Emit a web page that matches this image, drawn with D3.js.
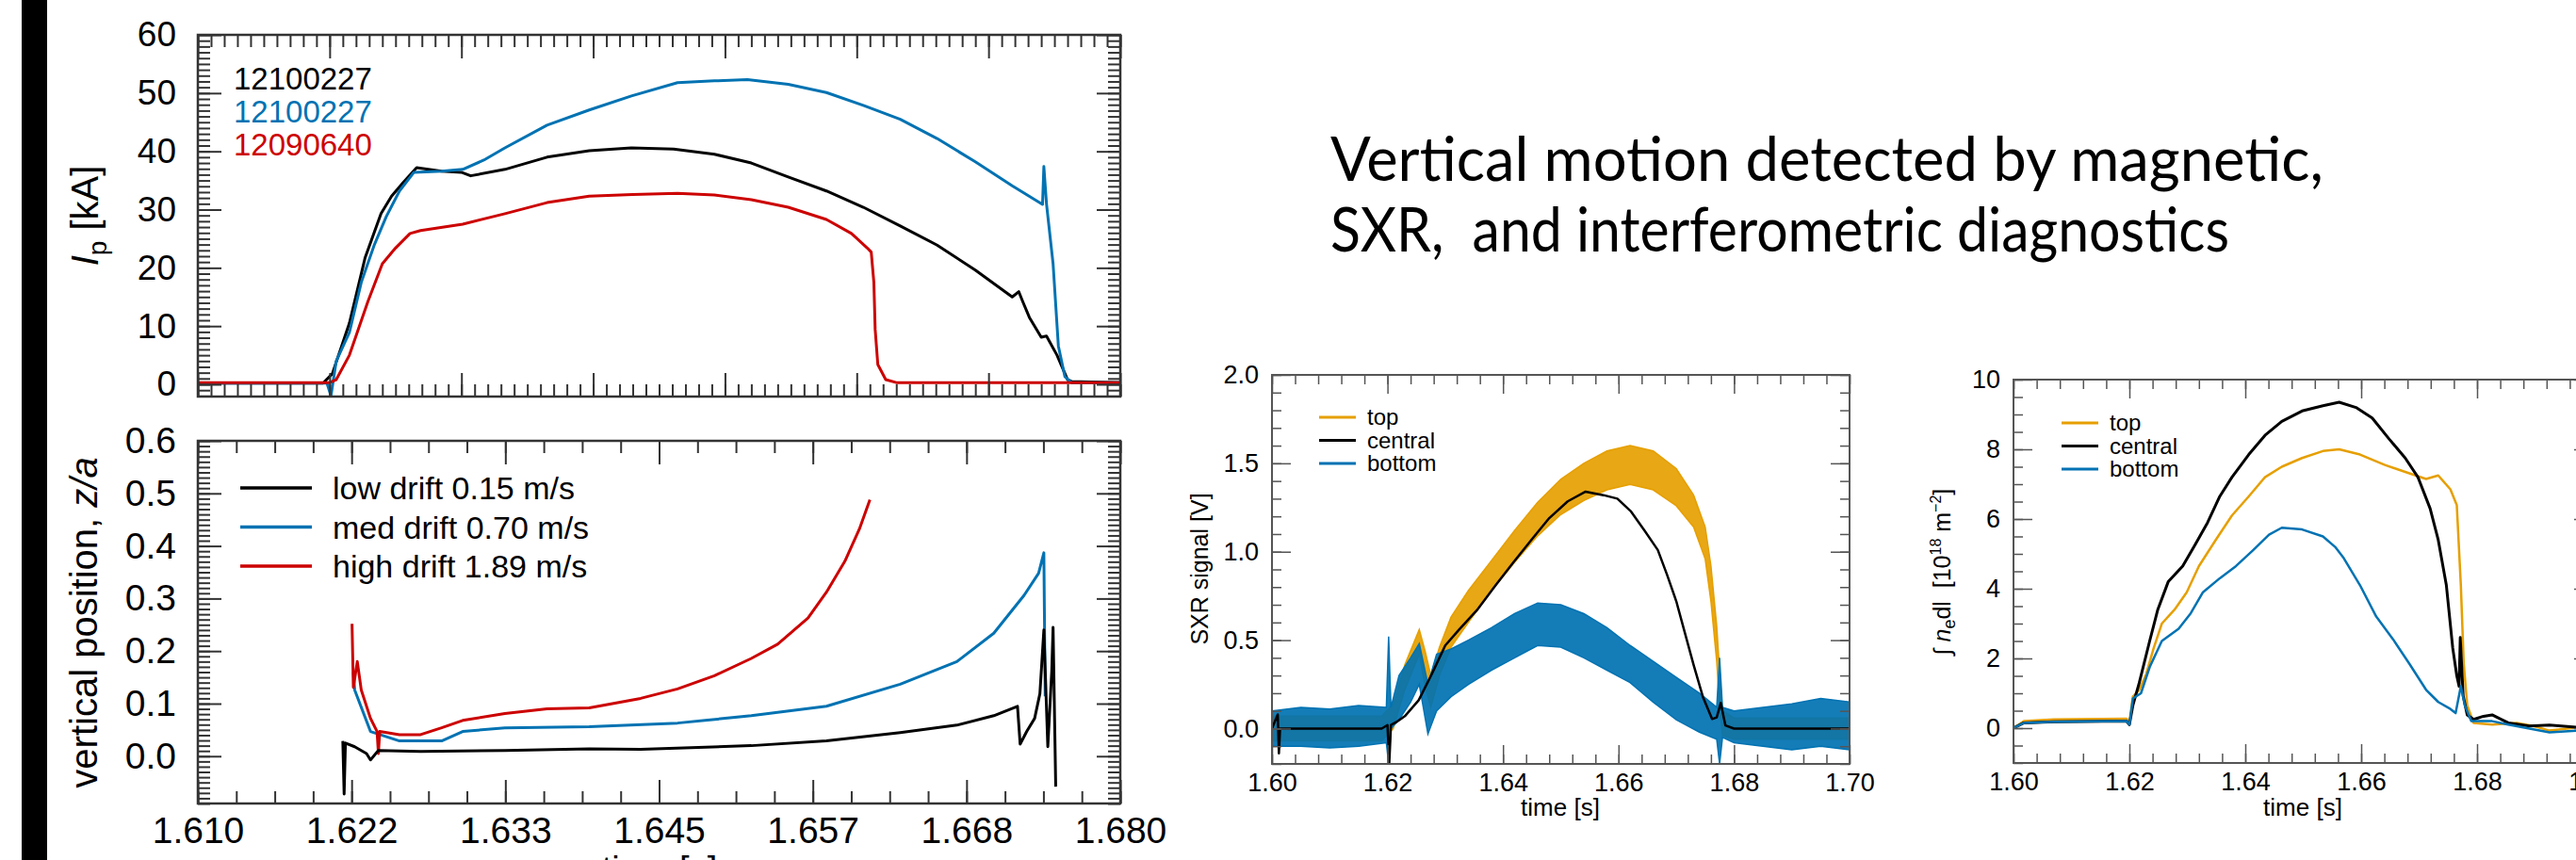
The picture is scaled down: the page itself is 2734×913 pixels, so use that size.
<!DOCTYPE html>
<html>
<head>
<meta charset="utf-8">
<script src="https://cdn.jsdelivr.net/npm/d3@7"></script>
<style>
  html, body { margin: 0; padding: 0; background: #fff; }
  svg { display: block; }
</style>
</head>
<body>
<div id="chart"></div>
<script>
// ---- plasma current, top-left panel (kA) ----
const ipTimeBlack = [1.610, 1.6195, 1.6202, 1.6215, 1.6227, 1.6239, 1.6247, 1.6256, 1.6266, 1.6285, 1.6300, 1.6307, 1.6333, 1.6365, 1.6397, 1.6429, 1.6461, 1.6492, 1.6520, 1.6548, 1.6577, 1.6605, 1.6633, 1.6661, 1.6690, 1.6718, 1.6723, 1.6726, 1.6731, 1.6740, 1.6744, 1.6752, 1.6760, 1.6763, 1.680]
const ipBlack     = [0.2, 0.2, 1.8, 10.5, 21.8, 29.3, 32.3, 34.7, 37.2, 36.6, 36.4, 35.8, 36.9, 39.0, 40.1, 40.6, 40.4, 39.5, 38.0, 35.6, 33.2, 30.4, 27.2, 23.9, 19.6, 15.0, 15.9, 14.2, 11.5, 8.1, 8.3, 5.0, 0.8, 0.5, 0.3]
const ipTimeBlue  = [1.610, 1.6198, 1.6201, 1.6205, 1.6215, 1.6224, 1.6234, 1.6243, 1.6253, 1.6264, 1.6285, 1.6301, 1.6317, 1.6333, 1.6365, 1.6397, 1.6429, 1.6464, 1.6492, 1.6517, 1.6548, 1.6577, 1.6605, 1.6633, 1.6661, 1.6690, 1.6718, 1.6741, 1.6742, 1.6744, 1.6749, 1.6753, 1.6758, 1.6763, 1.680]
const ipBlue      = [0.2, 0.2, -2.0, 4.0, 8.9, 17.5, 24.0, 28.8, 33.2, 36.4, 36.6, 36.9, 38.5, 40.6, 44.5, 47.1, 49.5, 51.8, 52.1, 52.3, 51.5, 50.1, 47.9, 45.5, 42.2, 38.2, 34.1, 30.9, 37.4, 31.0, 20.7, 6.6, 1.3, 0.3, 0.3]
const ipTimeRed   = [1.610, 1.6200, 1.6205, 1.6215, 1.6229, 1.6240, 1.6250, 1.6261, 1.6269, 1.6301, 1.6333, 1.6365, 1.6397, 1.6430, 1.6464, 1.6492, 1.6520, 1.6548, 1.6577, 1.6596, 1.6608, 1.6611, 1.6613, 1.6614, 1.6616, 1.6622, 1.6630, 1.680]
const ipRed       = [0.3, 0.3, 0.8, 5.0, 14.2, 20.7, 23.4, 25.9, 26.4, 27.5, 29.3, 31.2, 32.3, 32.6, 32.8, 32.5, 31.7, 30.4, 28.3, 25.9, 23.4, 22.7, 17.5, 9.4, 3.4, 0.8, 0.3, 0.3]
const ipShots     = ['12100227', '12100227', '12090640']
const ipYTicks    = [0, 10, 20, 30, 40, 50, 60]

// ---- vertical position, bottom-left panel (z/a) ----
const zTimeBlack = [1.6210, 1.6211, 1.6212, 1.6219, 1.6228, 1.6231, 1.6237, 1.6269, 1.6333, 1.6397, 1.6436, 1.6520, 1.6577, 1.6633, 1.6676, 1.6704, 1.6722, 1.6724, 1.6729, 1.6735, 1.6739, 1.6742, 1.6745, 1.6748, 1.6749, 1.6751]
const zBlack     = [0.029, -0.072, 0.025, 0.018, 0.005, -0.007, 0.011, 0.009, 0.011, 0.014, 0.013, 0.020, 0.029, 0.045, 0.059, 0.077, 0.095, 0.023, 0.047, 0.072, 0.119, 0.240, 0.018, 0.162, 0.245, -0.058]
const zTimeBlue  = [1.6218, 1.6219, 1.6231, 1.6253, 1.6285, 1.6301, 1.6333, 1.6397, 1.6464, 1.6520, 1.6577, 1.6633, 1.6676, 1.6704, 1.6727, 1.6738, 1.6742, 1.6743]
const zBlue      = [0.160, 0.126, 0.047, 0.029, 0.029, 0.047, 0.054, 0.056, 0.063, 0.077, 0.095, 0.137, 0.180, 0.234, 0.306, 0.348, 0.387, 0.114]
const zTimeRed   = [1.6217, 1.6218, 1.6221, 1.6224, 1.6231, 1.6236, 1.6237, 1.6238, 1.6253, 1.6269, 1.6285, 1.6301, 1.6333, 1.6365, 1.6397, 1.6436, 1.6464, 1.6492, 1.6520, 1.6540, 1.6563, 1.6577, 1.6591, 1.6602, 1.6610]
const zRed       = [0.252, 0.131, 0.180, 0.126, 0.072, 0.047, 0.005, 0.047, 0.041, 0.041, 0.054, 0.068, 0.081, 0.090, 0.092, 0.110, 0.128, 0.153, 0.186, 0.213, 0.263, 0.312, 0.371, 0.432, 0.488]
const zLegend    = ['low drift 0.15 m/s', 'med drift 0.70 m/s', 'high drift 1.89 m/s']
const zXLabels   = ['1.610', '1.622', '1.633', '1.645', '1.657', '1.668', '1.680']
const zYTicks    = [0.0, 0.1, 0.2, 0.3, 0.4, 0.5, 0.6]

// ---- SXR signal, middle panel (V); noisy channels kept as envelopes ----
const sxrTimeTop = [1.600, 1.619, 1.621, 1.623, 1.6255, 1.6265, 1.6275, 1.629, 1.631, 1.634, 1.638, 1.642, 1.646, 1.650, 1.654, 1.658, 1.662, 1.666, 1.670, 1.673, 1.675, 1.676, 1.677, 1.6775, 1.678, 1.680, 1.700]
const sxrTopHi   = [0.07, 0.07, 0.14, 0.36, 0.56, 0.44, 0.30, 0.46, 0.63, 0.78, 0.95, 1.12, 1.28, 1.41, 1.50, 1.57, 1.60, 1.57, 1.47, 1.32, 1.14, 0.92, 0.58, 0.32, 0.10, 0.06, 0.06]
const sxrTopLo   = [-0.07, -0.07, 0.00, 0.22, 0.42, 0.24, 0.12, 0.30, 0.46, 0.60, 0.78, 0.94, 1.09, 1.21, 1.29, 1.35, 1.38, 1.35, 1.26, 1.14, 0.96, 0.72, 0.38, 0.12, -0.04, -0.06, -0.06]
const sxrTimeBottom = [1.600, 1.605, 1.610, 1.615, 1.6198, 1.6202, 1.6206, 1.622, 1.624, 1.6255, 1.627, 1.6285, 1.631, 1.634, 1.638, 1.642, 1.646, 1.650, 1.654, 1.658, 1.662, 1.666, 1.670, 1.674, 1.677, 1.6775, 1.678, 1.680, 1.685, 1.690, 1.695, 1.700]
const sxrBottomHi = [0.10, 0.12, 0.11, 0.13, 0.12, 0.52, 0.12, 0.30, 0.40, 0.48, 0.25, 0.42, 0.45, 0.50, 0.57, 0.65, 0.71, 0.70, 0.65, 0.57, 0.47, 0.38, 0.29, 0.20, 0.12, 0.40, 0.12, 0.10, 0.12, 0.14, 0.17, 0.15]
const sxrBottomLo = [-0.10, -0.10, -0.11, -0.10, -0.08, -0.20, 0.00, 0.05, 0.15, 0.25, -0.03, 0.10, 0.18, 0.25, 0.33, 0.40, 0.47, 0.46, 0.40, 0.33, 0.26, 0.15, 0.05, -0.02, -0.06, -0.20, -0.05, -0.08, -0.10, -0.12, -0.10, -0.12]
const sxrTimeCentral = [1.600, 1.6010, 1.6012, 1.6014, 1.619, 1.6200, 1.6203, 1.6206, 1.6215, 1.623, 1.6254, 1.6277, 1.630, 1.6324, 1.6355, 1.6387, 1.6418, 1.645, 1.648, 1.6512, 1.6543, 1.6574, 1.6598, 1.6621, 1.6645, 1.6668, 1.6684, 1.670, 1.6715, 1.673, 1.6746, 1.6762, 1.677, 1.6777, 1.6785, 1.680, 1.700]
const sxrCentral = [0.0, 0.08, -0.14, 0.0, 0.0, 0.02, -0.2, 0.02, 0.036, 0.07, 0.16, 0.31, 0.47, 0.56, 0.67, 0.81, 0.94, 1.07, 1.19, 1.285, 1.34, 1.32, 1.30, 1.23, 1.12, 1.01, 0.87, 0.72, 0.54, 0.36, 0.18, 0.054, 0.063, 0.145, 0.018, 0.0, 0.0]
const sxrYTicks  = [0.0, 0.5, 1.0, 1.5, 2.0]

// ---- line-integrated density, right panel (1e18 m^-2) ----
const neTimeTop = [1.600, 1.6018, 1.607, 1.6195, 1.6200, 1.6206, 1.6217, 1.6229, 1.6242, 1.6256, 1.6278, 1.6299, 1.6320, 1.6349, 1.6377, 1.6406, 1.6434, 1.6463, 1.6498, 1.6534, 1.6562, 1.6598, 1.6641, 1.6676, 1.6712, 1.6733, 1.6754, 1.6765, 1.6772, 1.6777, 1.6783, 1.6794, 1.6826, 1.6868, 1.6897, 1.6925, 1.6974, 1.700]
const neTop     = [0.0, 0.2, 0.25, 0.27, 0.15, 0.9, 1.1, 1.55, 2.3, 3.0, 3.4, 3.9, 4.65, 5.4, 6.1, 6.65, 7.2, 7.5, 7.75, 7.95, 8.0, 7.85, 7.55, 7.35, 7.15, 7.25, 6.85, 6.4, 4.1, 1.85, 0.65, 0.15, 0.1, 0.15, 0.06, -0.07, 0.02, 0.0]
const neTimeCentral = [1.600, 1.6018, 1.607, 1.6195, 1.6200, 1.6206, 1.6217, 1.6235, 1.6249, 1.6267, 1.6292, 1.6313, 1.6335, 1.6356, 1.6377, 1.6406, 1.6434, 1.6463, 1.6498, 1.6534, 1.6562, 1.6591, 1.6619, 1.6648, 1.6676, 1.6698, 1.6719, 1.6733, 1.6747, 1.6758, 1.6765, 1.6769, 1.6771, 1.6776, 1.6783, 1.6794, 1.6811, 1.6826, 1.6854, 1.6890, 1.6925, 1.6974, 1.700]
const neCentral = [0.0, 0.15, 0.18, 0.2, 0.1, 0.65, 1.3, 2.5, 3.4, 4.2, 4.65, 5.25, 5.9, 6.65, 7.2, 7.85, 8.4, 8.8, 9.1, 9.25, 9.35, 9.2, 8.9, 8.3, 7.75, 7.2, 6.3, 5.4, 4.1, 2.3, 1.5, 1.2, 2.6, 0.93, 0.38, 0.25, 0.34, 0.38, 0.15, 0.06, 0.09, 0.02, 0.0]
const neTimeBottom = [1.600, 1.6018, 1.607, 1.6195, 1.6200, 1.6206, 1.6220, 1.6235, 1.6256, 1.6285, 1.6306, 1.6327, 1.6356, 1.6384, 1.6413, 1.6441, 1.6463, 1.6498, 1.6534, 1.6555, 1.6569, 1.6598, 1.6626, 1.6655, 1.6683, 1.6712, 1.6733, 1.6754, 1.6763, 1.6772, 1.6779, 1.6790, 1.6826, 1.6854, 1.6925, 1.6974, 1.700]
const neBottom  = [0.0, 0.15, 0.18, 0.2, 0.1, 0.85, 1.0, 1.75, 2.5, 2.85, 3.3, 3.9, 4.3, 4.65, 5.1, 5.55, 5.75, 5.7, 5.5, 5.2, 4.9, 4.1, 3.2, 2.55, 1.85, 1.1, 0.75, 0.55, 0.43, 1.2, 0.65, 0.2, 0.2, 0.1, -0.12, -0.07, -0.05]
const neYTicks  = [0, 2, 4, 6, 8, 10]

const diagLegend = ['top', 'central', 'bottom']
const titleLines = ['Vertical motion detected by magnetic,', 'SXR,  and interferometric diagnostics']

const C = { black: '#000000', blue: '#0072b2', red: '#cc0000', orange: '#e69f00' }
const FONT = "'Liberation Sans', Arial, Helvetica, sans-serif"

const W = 2734, H = 913
const svg = d3.select('#chart').append('svg').attr('width', W).attr('height', H)
svg.append('rect').attr('width', W).attr('height', H).attr('fill', '#fff')

// black slide bar on the left
svg.append('rect').attr('x', 23).attr('y', 0).attr('width', 27).attr('height', H).attr('fill', '#000')

const zip = (a, b) => a.map((t, i) => [t, b[i]])
const step = (a, b, s) => d3.range(Math.round((b - a) / s) + 1).map(i => a + i * s)

function makePanel(o) {
  const x = d3.scaleLinear().domain(o.xDomain).range([o.left, o.right])
  const y = d3.scaleLinear().domain(o.yDomain).range([o.bottom, o.top])
  svg.append('clipPath').attr('id', 'clip-' + o.name)
    .append('rect')
    .attr('x', o.left).attr('y', o.top)
    .attr('width', o.right - o.left).attr('height', o.bottom - o.top)
  const plot = svg.append('g').attr('clip-path', `url(#clip-${o.name})`)
  return { x, y, plot, o }
}

function line(p, t, v, color, width) {
  p.plot.append('path')
    .datum(zip(t, v))
    .attr('fill', 'none')
    .attr('stroke', color)
    .attr('stroke-width', width)
    .attr('stroke-linejoin', 'round')
    .attr('d', d3.line().x(d => p.x(d[0])).y(d => p.y(d[1])))
}

// noisy channels: filled envelope between the low and high readings
function band(p, t, lo, hi, color) {
  p.plot.append('path')
    .datum(t.map((d, i) => [d, lo[i], hi[i]]))
    .attr('fill', color)
    .attr('fill-opacity', 0.92)
    .attr('stroke', color)
    .attr('stroke-width', 1.5)
    .attr('d', d3.area().x(d => p.x(d[0])).y0(d => p.y(d[1])).y1(d => p.y(d[2])))
}

function axes(p) {
  const { x, y, o } = p
  const style = sel => {
    sel.select('.domain').remove()
    sel.selectAll('.tick line').attr('stroke', o.tickColor).attr('stroke-width', o.tickWidth)
    sel.selectAll('.tick text').attr('fill', '#000').attr('font-size', o.fontSize).attr('font-family', FONT)
  }
  const put = (axis, tx, ty) => svg.append('g')
    .attr('transform', `translate(${tx},${ty})`)
    .call(axis).call(style)

  put(d3.axisBottom(x).tickValues(o.xMinor).tickSize(-o.minorLen).tickFormat(''), 0, o.bottom)
  put(d3.axisBottom(x).tickValues(o.xMajor).tickSize(-o.majorLen).tickPadding(o.padX).tickFormat(o.xFormat || ''), 0, o.bottom)
  put(d3.axisTop(x).tickValues(o.xMinor).tickSize(-o.minorLen).tickFormat(''), 0, o.top)
  put(d3.axisTop(x).tickValues(o.xMajor).tickSize(-o.majorLen).tickFormat(''), 0, o.top)
  put(d3.axisLeft(y).tickValues(o.yMinor).tickSize(-o.minorLen).tickFormat(''), o.left, 0)
  put(d3.axisLeft(y).tickValues(o.yMajor).tickSize(-o.majorLen).tickPadding(o.padY).tickFormat(o.yFormat), o.left, 0)
  put(d3.axisRight(y).tickValues(o.yMinor).tickSize(-o.minorLen).tickFormat(''), o.right, 0)
  put(d3.axisRight(y).tickValues(o.yMajor).tickSize(-o.majorLen).tickFormat(''), o.right, 0)

  svg.append('rect')
    .attr('x', o.left).attr('y', o.top)
    .attr('width', o.right - o.left).attr('height', o.bottom - o.top)
    .attr('fill', 'none').attr('stroke', o.tickColor).attr('stroke-width', o.frameWidth)
}

function text(x, y, str, size, opts = {}) {
  return svg.append('text')
    .attr('x', x).attr('y', y)
    .attr('font-family', opts.family || FONT)
    .attr('font-size', size)
    .attr('text-anchor', opts.anchor || 'start')
    .attr('fill', opts.fill || '#000')
    .style('white-space', 'pre')
    .text(str)
}

function rotated(cx, cy, size) {
  return svg.append('text')
    .attr('transform', `translate(${cx},${cy}) rotate(-90)`)
    .attr('font-family', FONT)
    .attr('font-size', size)
    .attr('text-anchor', 'middle')
    .style('white-space', 'pre')
}

// ================= top-left: Ip =================
const ip = makePanel({
  name: 'ip', left: 210, right: 1189, top: 37, bottom: 421,
  xDomain: [1.61, 1.68], yDomain: [-2.1, 60],
  xMajor: step(1.61, 1.68, 0.01), xMinor: step(1.61, 1.68, 0.001),
  yMajor: ipYTicks, yMinor: step(-2, 60, 1),
  majorLen: 25, minorLen: 13, padX: 10, padY: 23,
  yFormat: d3.format('d'), fontSize: 37,
  tickColor: '#333', tickWidth: 2, frameWidth: 2.5
})
line(ip, ipTimeBlack, ipBlack, C.black, 3)
line(ip, ipTimeBlue, ipBlue, C.blue, 3)
line(ip, ipTimeRed, ipRed, C.red, 3)
axes(ip)
;[C.black, C.blue, C.red].forEach((c, i) => text(248, 95 + i * 35, ipShots[i], 33, { fill: c }))

const ipTitle = rotated(104, 229, 40)
ipTitle.append('tspan').attr('font-style', 'italic').text('I')
ipTitle.append('tspan').attr('font-size', 28).attr('dy', 9).text('p')
ipTitle.append('tspan').attr('dy', -9).text(' [kA]')

// ================= bottom-left: z/a =================
const zp = makePanel({
  name: 'z', left: 210, right: 1189, top: 468, bottom: 853,
  xDomain: [1.61, 1.68], yDomain: [-0.09, 0.6],
  xMajor: step(1.61, 1.68, 0.07 / 6), xMinor: step(1.61, 1.68, 0.07 / 24),
  yMajor: zYTicks, yMinor: step(-0.09, 0.6, 0.01),
  majorLen: 25, minorLen: 13, padX: 14, padY: 23,
  xFormat: (d, i) => zXLabels[i], yFormat: d3.format('.1f'), fontSize: 39,
  tickColor: '#333', tickWidth: 2, frameWidth: 2.5
})
line(zp, zTimeBlue, zBlue, C.blue, 3)
line(zp, zTimeRed, zRed, C.red, 3)
line(zp, zTimeBlack, zBlack, C.black, 3)
axes(zp)
;[C.black, C.blue, C.red].forEach((c, i) => {
  const yy = 518 + i * 41.5
  svg.append('line').attr('x1', 255).attr('x2', 331).attr('y1', yy).attr('y2', yy)
    .attr('stroke', c).attr('stroke-width', 3.5)
  text(353, yy + 12, zLegend[i], 34)
})
const zTitle = rotated(103, 661, 40)
zTitle.append('tspan').text('vertical position, ')
zTitle.append('tspan').attr('font-style', 'italic').text('z/a')
text(700, 936, 'time [s]', 38, { anchor: 'middle' })

// ================= middle: SXR =================
const sxr = makePanel({
  name: 'sxr', left: 1350, right: 1963, top: 398, bottom: 811,
  xDomain: [1.6, 1.7], yDomain: [-0.2, 2.0],
  xMajor: step(1.6, 1.7, 0.02), xMinor: step(1.6, 1.7, 0.004),
  yMajor: sxrYTicks, yMinor: step(-0.2, 2.0, 0.1),
  majorLen: 20, minorLen: 10, padX: 10, padY: 14,
  xFormat: d3.format('.2f'), yFormat: d3.format('.1f'), fontSize: 27,
  tickColor: '#555', tickWidth: 1.5, frameWidth: 2
})
band(sxr, sxrTimeTop, sxrTopLo, sxrTopHi, C.orange)
band(sxr, sxrTimeBottom, sxrBottomLo, sxrBottomHi, C.blue)
line(sxr, sxrTimeCentral, sxrCentral, C.black, 2.5)
axes(sxr)
rotated(1282, 604, 25).text('SXR signal [V]')
text(1656, 866, 'time [s]', 26, { anchor: 'middle' })

// ================= right: interferometer =================
const ne = makePanel({
  name: 'ne', left: 2137, right: 2752, top: 403, bottom: 810,
  xDomain: [1.6, 1.7], yDomain: [-1, 10],
  xMajor: step(1.6, 1.7, 0.02), xMinor: step(1.6, 1.7, 0.004),
  yMajor: neYTicks, yMinor: step(-1, 10, 0.5),
  majorLen: 20, minorLen: 10, padX: 10, padY: 14,
  xFormat: d3.format('.2f'), yFormat: d3.format('d'), fontSize: 27,
  tickColor: '#555', tickWidth: 1.5, frameWidth: 2
})
line(ne, neTimeTop, neTop, C.orange, 2.5)
line(ne, neTimeCentral, neCentral, C.black, 3)
line(ne, neTimeBottom, neBottom, C.blue, 2.5)
axes(ne)
const neTitle = rotated(2070, 607, 25)
neTitle.append('tspan').text('\u222B ')
neTitle.append('tspan').attr('font-style', 'italic').text('n')
neTitle.append('tspan').attr('font-size', 18).attr('dy', 5).text('e')
neTitle.append('tspan').attr('dy', -5).text('dl  [10')
neTitle.append('tspan').attr('font-size', 16).attr('dy', -10).text('18')
neTitle.append('tspan').attr('dy', 10).text(' m')
neTitle.append('tspan').attr('font-size', 16).attr('dy', -10).text('\u22122')
neTitle.append('tspan').attr('dy', 10).text(']')
text(2444, 866, 'time [s]', 26, { anchor: 'middle' })

// legends of the two diagnostic panels
;[[sxr, 1400, 443], [ne, 2188, 449]].forEach(([p, lx, ly]) => {
  ;[C.orange, C.black, C.blue].forEach((c, i) => {
    const yy = ly + i * 24.5
    svg.append('line').attr('x1', lx).attr('x2', lx + 39).attr('y1', yy).attr('y2', yy)
      .attr('stroke', c).attr('stroke-width', 3)
    text(lx + 51, yy + 8, diagLegend[i], 24)
  })
})

// slide title
titleLines.forEach((s, i) => {
  text(1412, 192 + i * 75, s, 66, { family: "Lato, 'Open Sans', sans-serif" })
    .attr('textLength', i === 0 ? 1054 : 954)
    .attr('lengthAdjust', 'spacingAndGlyphs')
})
</script>
</body>
</html>
